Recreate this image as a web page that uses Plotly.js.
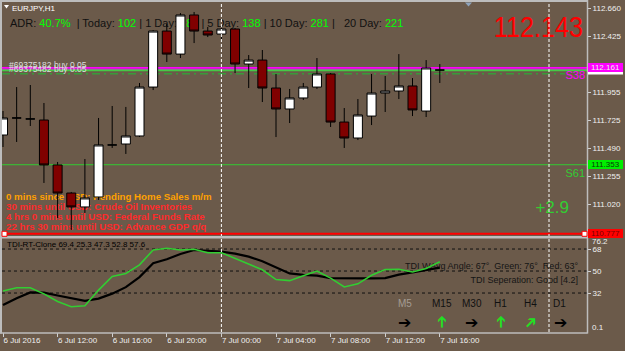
<!DOCTYPE html>
<html><head><meta charset="utf-8">
<script src="https://cdn.plot.ly/plotly-3.0.1.min.js"></script>
<style>html,body{margin:0;padding:0;background:#6b5a4a;overflow:hidden}</style>
</head><body><div id="chart" style="width:625px;height:351px"></div>
<script>
// ---------- DATA ----------
const times = ["2016-07-06 08:00","2016-07-06 09:00","2016-07-06 10:00","2016-07-06 11:00","2016-07-06 12:00","2016-07-06 13:00","2016-07-06 14:00","2016-07-06 15:00","2016-07-06 16:00","2016-07-06 17:00","2016-07-06 18:00","2016-07-06 19:00","2016-07-06 20:00","2016-07-06 21:00","2016-07-06 22:00","2016-07-06 23:00","2016-07-07 00:00","2016-07-07 01:00","2016-07-07 02:00","2016-07-07 03:00","2016-07-07 04:00","2016-07-07 05:00","2016-07-07 06:00","2016-07-07 07:00","2016-07-07 08:00","2016-07-07 09:00","2016-07-07 10:00","2016-07-07 11:00","2016-07-07 12:00","2016-07-07 13:00","2016-07-07 14:00","2016-07-07 15:00","2016-07-07 16:00"];
const openP  = [111.601,111.743,111.735,111.726,111.351,111.117,111.001,111.084,111.518,111.526,111.593,112.001,112.468,112.276,112.602,112.468,112.443,112.485,112.193,112.226,111.993,111.818,111.910,112.001,112.110,111.709,111.576,111.759,111.951,111.968,112.010,111.801,112.143];
const highP  = [111.801,112.001,112.018,111.868,111.376,111.126,111.401,111.743,111.843,111.835,112.035,112.476,112.527,112.618,112.627,112.502,112.493,112.493,112.268,112.310,112.110,111.985,112.035,112.243,112.118,111.826,111.901,112.110,112.093,112.276,112.076,112.226,112.193];
const lowP   = [111.501,111.543,111.676,111.201,110.909,110.809,110.951,111.059,111.493,111.443,111.584,111.976,112.210,112.243,112.368,112.418,112.393,112.118,111.993,111.876,111.584,111.701,111.893,111.985,111.668,111.493,111.559,111.684,111.793,111.901,111.759,111.751,112.035];
const closeP = [111.743,111.743,111.735,111.351,111.117,111.001,111.076,111.518,111.518,111.593,112.001,112.468,112.276,112.602,112.468,112.435,112.485,112.193,112.226,111.993,111.818,111.910,112.001,112.110,111.709,111.576,111.768,111.951,111.968,112.010,111.810,112.160,112.143];

const tdiGreen = [33.6,36.3,36.3,31.3,25.0,20.8,21.6,34.4,45.5,48.0,55.0,67.2,68.6,67.2,67.8,65.0,65.0,60.5,55.5,51.0,43.0,42.1,46.2,50.0,44.2,37.0,39.5,46.5,51.3,51.4,49.2,52.0,57.6];
const tdiBlack = [22.2,27.7,32.5,32.3,30.0,27.5,25.6,27.4,31.5,36.8,45.0,56.3,59.6,63.9,67.2,66.6,65.8,64.2,61.8,58.0,53.0,48.0,46.9,46.2,44.2,44.0,44.0,44.0,44.2,47.0,48.9,50.7,52.8];
const tdiHeaderValues = [69.4,25.3,47.3,52.8,57.6];
const tdiLevels = [68,50,32];

const priceTicks = [112.660,112.425,111.955,111.725,111.490,111.255,111.020];
const priceTickText = ["112.660","112.425","111.955","111.725","111.490","111.255","111.020"];
const timeTickVals = ["2016-07-06 08:00","2016-07-06 12:00","2016-07-06 16:00","2016-07-06 20:00","2016-07-07 00:00","2016-07-07 04:00","2016-07-07 08:00","2016-07-07 12:00","2016-07-07 16:00"];
const timeTickText = ["6 Jul 2016","6 Jul 12:00","6 Jul 16:00","6 Jul 20:00","7 Jul 00:00","7 Jul 04:00","7 Jul 08:00","7 Jul 12:00","7 Jul 16:00"];
const daySeparators = ["2016-07-07 00:00","2016-07-08 00:00"];

const levelNames  = ["alert","bid","order","S38","S61","low"];
const levelValues = [112.161,112.143,112.137,112.112,111.353,110.777];

const adrLabels = ["ADR:","Today:","1 Day:","5 Day:","10 Day:","20 Day:"];
const adrValues = ["40.7%","102","188","138","281","221"];
const newsLines = ["0 mins since USD: Pending Home Sales m/m","30 mins until USD: Crude Oil Inventories","4 hrs 0 mins until USD: Federal Funds Rate","22 hrs 30 mins until USD: Advance GDP q/q"];
const tfLabels = ["M5","M15","M30","H1","H4","D1"];
const tfDirections = ["right","up","right","up","upright","right"];

// ---------- GEOMETRY / STYLE ----------
const BG = '#6b5a4a';
const L=2, R=587, T=3, B=332, W=R-L, H=B-T;
const fx = x => (x-L)/W, fy = y => (B-y)/H;
const FONT = 'Liberation Sans, Arial, sans-serif';
const toStr = ms => new Date(ms).toISOString().replace('T',' ').replace('Z','');
const t0 = Date.parse(times[0].replace(' ','T')+':00Z');
const PXH = 13.65; // px per hour
const xRange = [toStr(t0 + (L-3)/PXH*3600e3), toStr(t0 + (R-3)/PXH*3600e3)];

const shapes = [];
const annotations = [];

// horizontal levels (drawn first, under texts)
const levelStyle = {
  alert:{color:'#ff00ff', width:1.6, dash:'solid'},
  bid:{color:'#9fb0c8', width:1, dash:'solid'},
  order:{color:'#33dd33', width:1, dash:'solid'},
  S38:{color:'#3a9a3a', width:1.5, dash:'8px,4px,2px,4px'},
  S61:{color:'#32cd32', width:1, dash:'solid'},
  low:{color:'#ff0000', width:2, dash:'solid'}
};
levelNames.forEach((n,i)=>{
  shapes.push({type:'line', xref:'paper', yref:'y', layer:'below', x0:0, x1: n==='S38'? fx(565):1,
    y0:levelValues[i], y1:levelValues[i], line:levelStyle[n]});
});
tdiLevels.forEach(v=> shapes.push({type:'line', xref:'paper', yref:'y2', layer:'below', x0:0, x1:1, y0:v, y1:v,
  line:{color:'#111111', width:1, dash:'3px,3px'}}));

const SHIFT = 3; // label inset compensation
function textShape(x, y, text, size, color, anchor){
  const w = 2;
  const xx = anchor==='left' ? x-SHIFT : x+SHIFT;
  shapes.push({type:'rect', xref:'paper', yref:'paper', layer:'below',
    x0: anchor==='left'? fx(xx) : fx(xx-w), x1: anchor==='left'? fx(xx+w) : fx(xx),
    y0: fy(y+1), y1: fy(y-1), line:{width:0}, fillcolor:'rgba(0,0,0,0)',
    label:{text:text, font:{family:FONT, size:size, color:color},
      textposition: anchor==='left' ? 'middle left' : 'middle right', padding:0}});
}

// texts under the data
textShape(12, 7, 'EURJPY,H1', 8, '#ffffff', 'left');
let adr = '';
adrLabels.forEach((lab,i)=>{
  adr += (i===0? '' : (i===5? ' |   ' : (i===1?'  | ':' | '))) + lab + ' <span style="color:#00ff00">' + adrValues[i] + '</span>';
});
textShape(10, 22, adr, 11, '#111111', 'left');
const lastPrice = closeP[closeP.length-1].toFixed(3);
textShape(583, 23.5, lastPrice, 30, '#ff0000', 'right');
textShape(9, 64.5, '#69375182 buy 0.05', 8.5, '#dcdcdc', 'left');
textShape(9, 68, '#69375482 buy 0.05', 8.5, '#dcdcdc', 'left');
textShape(585, 74, 'S38', 11, '#ff00ff', 'right');
textShape(585, 172, 'S61', 11, '#32cd32', 'right');
textShape(569, 205.5, '+2.9', 17, '#32cd32', 'right');
const newsColors = ['#ffa000','#ff2a2a','#ff2a2a','#ff2a2a'];
const newsY = [195.5,205.8,216,226.2];
newsLines.forEach((t,i)=> textShape(6, newsY[i], '<b>'+t+'</b>', 9.7, newsColors[i], 'left'));
textShape(7, 243.6, 'TDI-RT-Clone ' + tdiHeaderValues.map(v=>v.toFixed(1)).join(' '), 8, '#000000', 'left');
textShape(578, 264.5, 'TDI WAvg Angle: 67°  Green: 76°  Red: 63°', 9, '#151515', 'right');
textShape(578, 279, 'TDI Seperation: Good [4.2]', 9, '#151515', 'right');

// day separators
daySeparators.forEach(d=> shapes.push({type:'line', xref:'x', yref:'paper', layer:'above', x0:d, x1:d, y0:0, y1:1,
  line:{color:'#ffffff', width:1, dash:'3px,2px'}}));
// frame
const frameColor = '#bdbdbd';
shapes.push({type:'line', xref:'paper', yref:'paper', layer:'above', x0:fx(1), x1:fx(1), y0:fy(0), y1:fy(333.5), line:{color:frameColor,width:2}});
shapes.push({type:'line', xref:'paper', yref:'paper', layer:'above', x0:fx(0), x1:fx(587.5), y0:fy(1), y1:fy(1), line:{color:frameColor,width:2}});
shapes.push({type:'line', xref:'paper', yref:'paper', layer:'above', x0:fx(587.5), x1:fx(587.5), y0:fy(0), y1:fy(333.5), line:{color:frameColor,width:1.5}});
shapes.push({type:'line', xref:'paper', yref:'paper', layer:'above', x0:fx(0), x1:fx(587.5), y0:fy(237.2), y1:fy(237.2), line:{color:frameColor,width:2.5}});
shapes.push({type:'line', xref:'paper', yref:'paper', layer:'above', x0:fx(0), x1:fx(587.5), y0:fy(333), y1:fy(333), line:{color:frameColor,width:1.5}});
// small markers
shapes.push({type:'path', xref:'paper', yref:'paper', layer:'above',
  path:`M ${fx(4)} ${fy(5)} L ${fx(9)} ${fy(5)} L ${fx(6.5)} ${fy(8.5)} Z`, fillcolor:'#ffffff', line:{width:0}});
shapes.push({type:'path', xref:'paper', yref:'paper', layer:'above',
  path:`M ${fx(465)} ${fy(2.5)} L ${fx(472)} ${fy(2.5)} L ${fx(468.5)} ${fy(6.5)} Z`, fillcolor:'#8ea3bb', line:{width:0}});
[4.5, 584.5].forEach(cx=> shapes.push({type:'rect', xref:'paper', yref:'paper', layer:'above',
  x0:fx(cx-2.5), x1:fx(cx+2.5), y0:fy(236.3), y1:fy(231.3), fillcolor:'#ffffff', line:{color:'#ff0000', width:1}}));
// bid price tag peeking out under the magenta tag
shapes.push({type:'rect', xref:'paper', yref:'paper', layer:'above',
  x0:fx(588), x1:fx(623), y0:fy(74.5), y1:fy(70), fillcolor:'#ffffff', line:{width:0}});

// axis price boxes
function priceBox(v, bg, fg){
  annotations.push({xref:'paper', x:1, xanchor:'left', xshift:1, yref:'y', y:v, yanchor:'middle',
    text:v.toFixed(3), showarrow:false, bgcolor:bg, borderwidth:0, borderpad:0, width:35, height:9,
    font:{family:FONT, size:8, color:fg}});
}
priceBox(levelValues[0], '#ff00ff', '#eeeeee');
priceBox(levelValues[4], '#00ee00', '#0a3a0a');
priceBox(levelValues[5], '#ff0000', '#7a0000');
// extreme TDI labels
annotations.push({xref:'paper', x:1, xanchor:'left', xshift:3, yref:'paper', y:fy(241.8), yanchor:'middle', text:'76.2', showarrow:false, font:{family:FONT,size:8,color:'#f0f0f0'}});
annotations.push({xref:'paper', x:1, xanchor:'left', xshift:3, yref:'paper', y:fy(327.5), yanchor:'middle', text:'0.1', showarrow:false, font:{family:FONT,size:8,color:'#f0f0f0'}});
// timeframe labels and arrows
const tfX = [404.5,442,472,500,530,559.5];
const arrowX = [404,441,471,500,530,560];
tfLabels.forEach((t,i)=>{
  annotations.push({xref:'paper', yref:'paper', x:fx(tfX[i]), y:fy(303.5), xanchor:'center', yanchor:'middle',
    text:t, showarrow:false, font:{family:FONT, size:10, color: i===0? '#a39c93':'#111111'}});
  const d = tfDirections[i];
  annotations.push({xref:'paper', yref:'paper', x:fx(arrowX[i]), y:fy(322.5), xanchor:'center', yanchor:'middle',
    text:'➔', showarrow:false, textangle: d==='up'? -90 : (d==='upright'? -45 : 0),
    font:{family:'DejaVu Sans, sans-serif', size:16, color: d==='right'? '#000000':'#22e022'}});
});

// ---------- TRACES ----------
const data = [
  {type:'candlestick', x:times, open:openP, high:highP, low:lowP, close:closeP, xaxis:'x', yaxis:'y',
   whiskerwidth:0, hoverinfo:'skip', showlegend:false,
   increasing:{line:{color:'#000000', width:1}, fillcolor:'#ffffff'},
   decreasing:{line:{color:'#000000', width:1}, fillcolor:'#800000'}},
  {type:'scatter', mode:'lines', x:times, y:tdiBlack, xaxis:'x', yaxis:'y2', line:{color:'#000000', width:2.2}, hoverinfo:'skip', showlegend:false},
  {type:'scatter', mode:'lines', x:times, y:tdiGreen, xaxis:'x', yaxis:'y2', line:{color:'#32cd32', width:1.6}, hoverinfo:'skip', showlegend:false}
];

const tickFont = {family:FONT, size:8, color:'#f0f0f0'};
const layout = {
  width:625, height:351, margin:{l:L, r:625-R, t:T, b:351-B, pad:0},
  paper_bgcolor:BG, plot_bgcolor:BG, showlegend:false, hovermode:false, dragmode:false,
  boxgap:0.34, boxgroupgap:0,
  xaxis:{type:'date', range:xRange, anchor:'y2', showgrid:false, zeroline:false, showline:false,
    ticks:'outside', ticklen:4, tickcolor:'#d0d0d0', tickwidth:1, tickmode:'array',
    tickvals:timeTickVals, ticktext:timeTickText, ticklabelposition:'outside right',
    tickfont:tickFont, rangeslider:{visible:false}, fixedrange:true},
  yaxis:{domain:[fy(235),1], range:[110.767,112.702], side:'right', anchor:'x', showgrid:false,
    zeroline:false, showline:false, ticks:'outside', ticklen:3, tickcolor:'#d0d0d0', tickmode:'array',
    tickvals:priceTicks, ticktext:priceTickText, tickfont:tickFont, fixedrange:true},
  yaxis2:{domain:[0,fy(239)], range:[0.1,76.2], side:'right', anchor:'x', showgrid:false,
    zeroline:false, showline:false, ticks:'outside', ticklen:3, tickcolor:'#d0d0d0', tickmode:'array',
    tickvals:tdiLevels, ticktext:tdiLevels.map(String), tickfont:tickFont, fixedrange:true},
  shapes:shapes, annotations:annotations
};

Plotly.newPlot('chart', data, layout, {displayModeBar:false, staticPlot:true}).then(()=>{
  // the big price readout uses a condensed face in the original: squeeze it horizontally
  document.querySelectorAll('#chart .shapelayer text').forEach(el=>{
    if(el.textContent === lastPrice){
      el.style.transformBox = 'fill-box';
      el.style.transformOrigin = 'right center';
      el.style.transform = 'scaleX(0.84)';
    }
  });
});
</script></body></html>
